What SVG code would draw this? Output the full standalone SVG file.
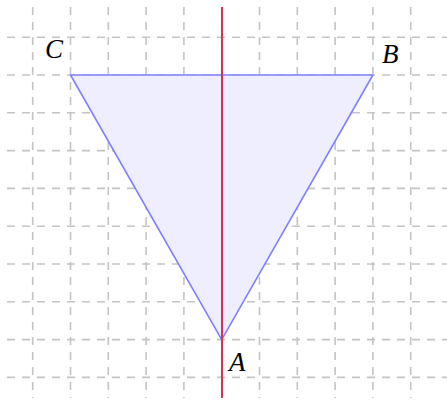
<svg xmlns="http://www.w3.org/2000/svg" width="447" height="401" viewBox="0 0 447 401">
<style>
.grid line{stroke:#c4c4c4;stroke-width:1.6;stroke-dasharray:8 7;fill:none}
</style>
<rect width="447" height="401" fill="#fff"/>
<g id="grid" class="grid">
<line x1="7" y1="37.2" x2="447" y2="37.2"/>
<line x1="7" y1="75" x2="447" y2="75"/>
<line x1="7" y1="112.8" x2="447" y2="112.8"/>
<line x1="7" y1="150.6" x2="447" y2="150.6"/>
<line x1="7" y1="188.4" x2="447" y2="188.4"/>
<line x1="7" y1="226.2" x2="447" y2="226.2"/>
<line x1="7" y1="264" x2="447" y2="264"/>
<line x1="7" y1="301.8" x2="447" y2="301.8"/>
<line x1="7" y1="339.6" x2="447" y2="339.6"/>
<line x1="7" y1="377.4" x2="447" y2="377.4"/>
<line x1="32.7" y1="7" x2="32.7" y2="398"/>
<line x1="70.5" y1="7" x2="70.5" y2="398"/>
<line x1="108.3" y1="7" x2="108.3" y2="398"/>
<line x1="146.1" y1="7" x2="146.1" y2="398"/>
<line x1="183.9" y1="7" x2="183.9" y2="398"/>
<line x1="221.7" y1="7" x2="221.7" y2="398"/>
<line x1="259.5" y1="7" x2="259.5" y2="398"/>
<line x1="297.3" y1="7" x2="297.3" y2="398"/>
<line x1="335.1" y1="7" x2="335.1" y2="398"/>
<line x1="372.9" y1="7" x2="372.9" y2="398"/>
<line x1="410.7" y1="7" x2="410.7" y2="398"/>
</g>
<g id="triangle">
<polygon points="70.5,75 372.9,75 221.7,339.6" fill="#eeeeff" stroke="#8080ff" stroke-width="1.6" stroke-linejoin="round"/>
</g>
<g id="axis">
<line x1="222" y1="7" x2="222" y2="398" stroke="#dc2f55" stroke-width="2"/>
</g>
<g id="labels" font-family="'Liberation Serif', 'DejaVu Serif', serif" font-style="italic" font-size="27" fill="#000">
<text id="A" x="229" y="371">A</text>
<text id="B" x="382" y="62.5">B</text>
<text id="C" x="45" y="57.5">C</text>
</g>
</svg>
